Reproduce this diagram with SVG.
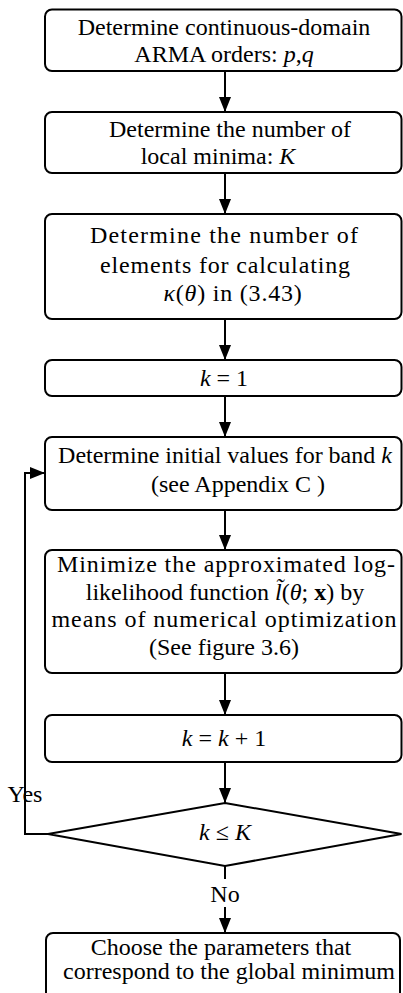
<svg xmlns="http://www.w3.org/2000/svg" width="403" height="993" viewBox="0 0 403 993">
  <style>
    .box { fill: #fff; stroke: #000; stroke-width: 2; }
    .t { font-family: "Liberation Serif", "Times New Roman", serif; font-size: 24px; fill: #000; text-anchor: middle; }
    .cm { font-family: "Liberation Serif", "Times New Roman", serif; font-size: 24px; fill: #000; text-anchor: middle; }
    .i { font-style: italic; }
    .b { font-weight: bold; }
    .edge { fill: none; stroke: #000; stroke-width: 2; }
  </style>
  <defs>
    <marker id="arrow" markerUnits="userSpaceOnUse" markerWidth="15" markerHeight="12" refX="15" refY="6" orient="auto">
      <path d="M0,0 L15,6 L0,12 z" fill="#000"/>
    </marker>
  </defs>

  <rect width="403" height="993" fill="#fff"/>

  <!-- connectors -->
  <g id="connectors">
    <line class="edge" x1="225" y1="71" x2="225" y2="112" marker-end="url(#arrow)"/>
    <line class="edge" x1="225" y1="173" x2="225" y2="214" marker-end="url(#arrow)"/>
    <line class="edge" x1="225" y1="319" x2="225" y2="360" marker-end="url(#arrow)"/>
    <line class="edge" x1="225" y1="396" x2="225" y2="437" marker-end="url(#arrow)"/>
    <line class="edge" x1="225" y1="510" x2="225" y2="550" marker-end="url(#arrow)"/>
    <line class="edge" x1="225" y1="673" x2="225" y2="715" marker-end="url(#arrow)"/>
    <line class="edge" x1="225" y1="762" x2="225" y2="803" marker-end="url(#arrow)"/>
    <line class="edge" x1="225" y1="866" x2="225" y2="879"/>
    <line class="edge" x1="225" y1="907" x2="225" y2="933" marker-end="url(#arrow)"/>
    <polyline class="edge" points="48,834 25,834 25,473 45,473" marker-end="url(#arrow)"/>
    <text class="t" x="25" y="802" font-size="23">Yes</text>
    <text class="t" x="225" y="902">No</text>
  </g>

  <g id="orders">
    <rect class="box" x="45" y="9.5" width="356.5" height="61.5" rx="7"/>
    <text class="t" x="224" y="35">Determine continuous-domain</text>
    <text class="t" x="224" y="62">ARMA orders: <tspan class="i">p</tspan>,<tspan class="i">q</tspan></text>
  </g>

  <g id="minima">
    <rect class="box" x="45" y="112" width="356.5" height="61" rx="7"/>
    <text class="t" x="230" y="137">Determine the number of</text>
    <text class="t" x="218" y="164">local minima: <tspan class="i">K</tspan></text>
  </g>

  <g id="elements">
    <rect class="box" x="45" y="214" width="356.5" height="105" rx="7"/>
    <text class="cm" x="224" y="243" textLength="268" lengthAdjust="spacing">Determine the number of</text>
    <text class="cm" x="225" y="273" textLength="250" lengthAdjust="spacing">elements for calculating</text>
    <text class="cm" x="233" y="301" letter-spacing="0.8"><tspan class="i">κ</tspan>(<tspan class="i">θ</tspan>) in  (3.43)</text>
  </g>

  <g id="init">
    <rect class="box" x="45" y="360" width="356.5" height="36" rx="7"/>
    <text class="t" x="224" y="386"><tspan class="i">k</tspan> = 1</text>
  </g>

  <g id="initial-values">
    <rect class="box" x="45" y="437" width="356.5" height="73" rx="7"/>
    <text class="t" x="225" y="463">Determine initial values for band <tspan class="i">k</tspan></text>
    <text class="t" x="238" y="492">(see Appendix C )</text>
  </g>

  <g id="minimize">
    <rect class="box" x="45" y="550" width="356.5" height="123" rx="7"/>
    <text class="cm" x="226" y="572" textLength="338" lengthAdjust="spacing">Minimize the approximated log-</text>
    <text class="cm" x="225" y="600">likelihood function <tspan class="i">l̃</tspan>(<tspan class="i">θ</tspan>; <tspan class="b">x</tspan>) by</text>
    <text class="cm" x="224" y="627" textLength="345" lengthAdjust="spacing">means of numerical optimization</text>
    <text class="t" x="224" y="655">(See figure 3.6)</text>
  </g>

  <g id="increment">
    <rect class="box" x="45" y="715" width="356.5" height="47" rx="7"/>
    <text class="t" x="224" y="746"><tspan class="i">k</tspan> = <tspan class="i">k</tspan> + 1</text>
  </g>

  <g id="check">
    <polygon class="box" points="225,803 401.5,834 225,866 48,834"/>
    <text class="t" x="225" y="840"><tspan class="i">k</tspan> ≤ <tspan class="i">K</tspan></text>
  </g>

  <g id="choose">
    <rect class="box" x="46" y="933" width="354" height="70" rx="7"/>
    <text class="t" x="221" y="955">Choose the parameters that</text>
    <text class="t" x="229" y="979">correspond to the global minimum</text>
  </g>
</svg>
